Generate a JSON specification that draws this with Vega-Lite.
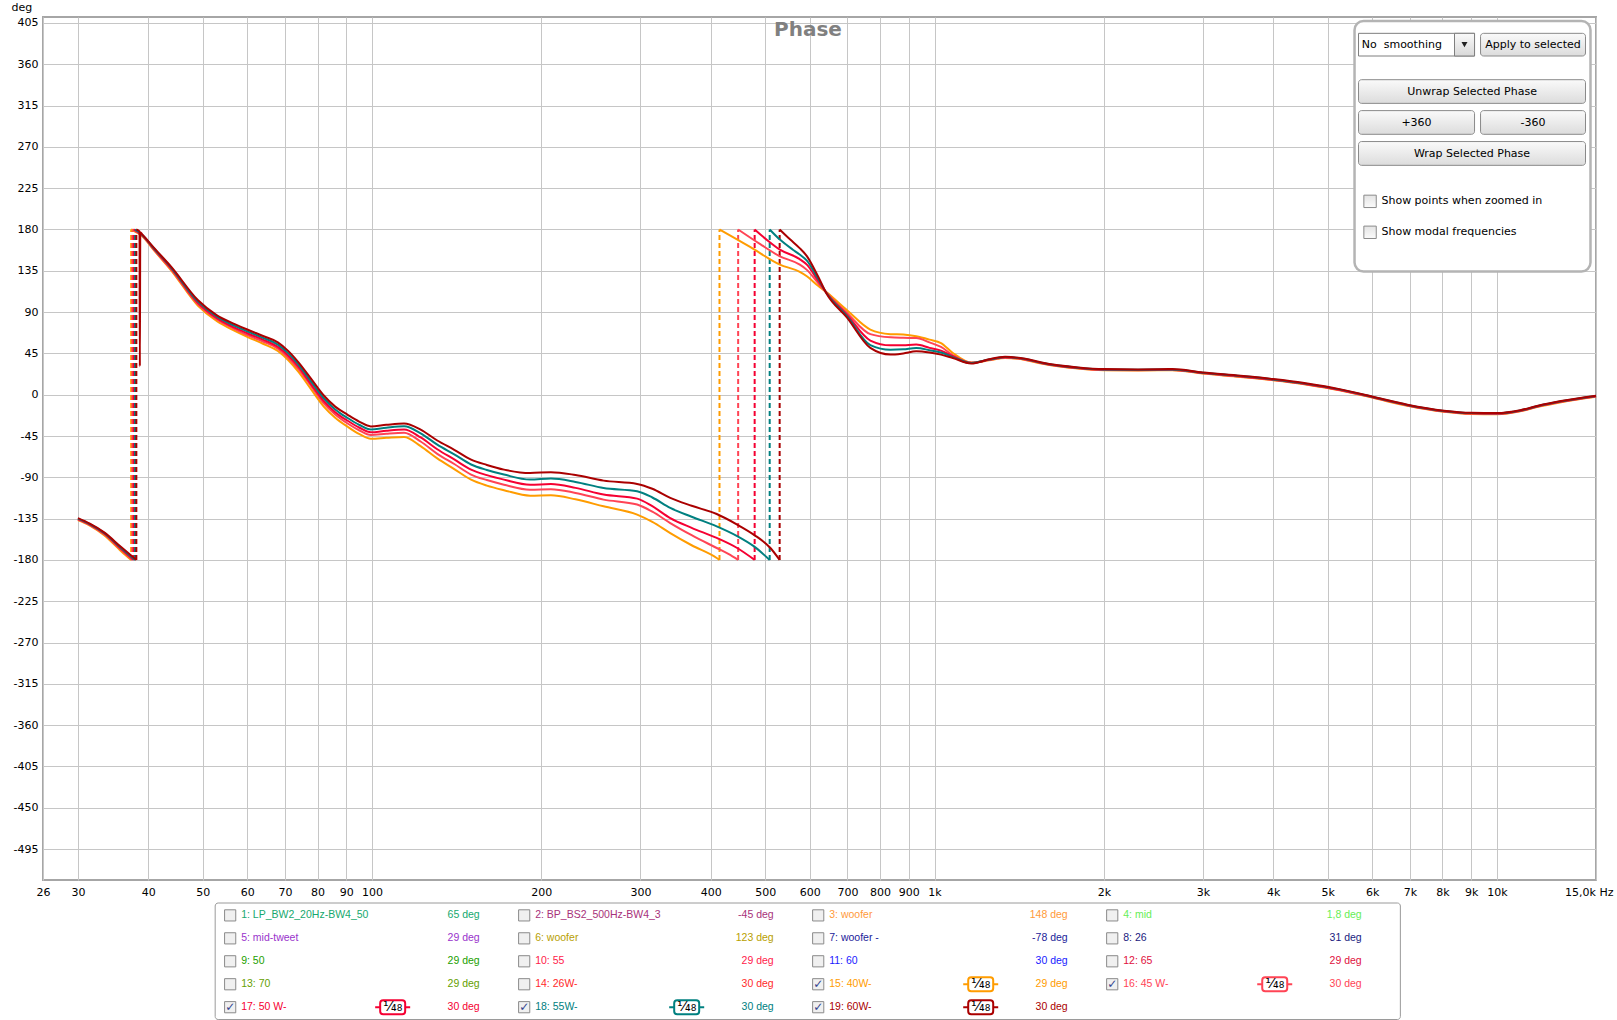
{
"$schema": "https://vega.github.io/schema/vega-lite/v6.json",
"background": "white",
"padding": {"left": 10, "top": 0, "right": 0, "bottom": 0},
"spacing": 4,
"resolve": {"scale": {"color": "independent", "x": "independent", "y": "independent"}},
"datasets": {
"wraps": [
{"s":"c15","f":37.3},{"s":"c16","f":37.5},{"s":"c17","f":37.7},{"s":"c18","f":37.9},{"s":"c19","f":38.1},
{"s":"c15","f":414.7},{"s":"c16","f":447.6},{"s":"c17","f":478.9},{"s":"c18","f":509.3},{"s":"c19","f":530.5}
],
"curves": [
{"g":1,"f":30,"c15":-136.5,"c16":-136,"c17":-135.5,"c18":-135,"c19":-134.5},
{"g":1,"f":31.5,"c15":-142.5,"c16":-142,"c17":-141.5,"c18":-141,"c19":-140.5},
{"g":1,"f":33.4,"c15":-153,"c16":-152,"c17":-151.2,"c18":-150.6,"c19":-150},
{"g":1,"f":35.8,"c15":-170.5,"c16":-169,"c17":-168,"c18":-167,"c19":-166},
{"g":1,"f":37.3,"c15":-180},
{"g":1,"f":37.5,"c16":-180},
{"g":1,"f":37.7,"c17":-180},
{"g":1,"f":37.9,"c18":-180},
{"g":1,"f":38.1,"c19":-180},
{"g":2,"f":37.3,"c15":180},
{"g":2,"f":37.5,"c16":180},
{"g":2,"f":37.7,"c17":180},
{"g":2,"f":37.9,"c18":180},
{"g":2,"f":38.1,"c19":180},
{"g":2,"f":38.6,"c19":178},
{"g":2,"f":38.65,"c19":31},
{"g":2,"f":38.72,"c19":177},
{"g":2,"f":39.0,"c15":172.9,"c16":173.4,"c17":173.9,"c18":174.4,"c19":174.9},
{"g":2,"f":41,"c15":157,"c16":157.5,"c17":158.3,"c18":159,"c19":159.7},
{"g":2,"f":44,"c15":135,"c16":136,"c17":137,"c18":138,"c19":139},
{"g":2,"f":49,"c15":97.2,"c16":98.7,"c17":100.2,"c18":101.7,"c19":103.2},
{"g":2,"f":53,"c15":80,"c16":82,"c17":83.5,"c18":85,"c19":86.5},
{"g":2,"f":57,"c15":69.5,"c16":71.5,"c17":73,"c18":75,"c19":77},
{"g":2,"f":60,"c15":63,"c16":65,"c17":67,"c18":69,"c19":71},
{"g":2,"f":64,"c15":55.5,"c16":58,"c17":60,"c18":62,"c19":64},
{"g":2,"f":68,"c15":47.6,"c16":50.1,"c17":52.1,"c18":54.6,"c19":57.1},
{"g":2,"f":71,"c15":37.5,"c16":40,"c17":42.5,"c18":45,"c19":47.5},
{"g":2,"f":74,"c15":24.8,"c16":27.8,"c17":30.3,"c18":32.8,"c19":35.3},
{"g":2,"f":78,"c15":5.5,"c16":9,"c17":11,"c18":14,"c19":17},
{"g":2,"f":82,"c15":-12.6,"c16":-9.1,"c17":-6.6,"c18":-3.6,"c19":-0.6},
{"g":2,"f":86,"c15":-25,"c16":-21.5,"c17":-19,"c18":-16,"c19":-13},
{"g":2,"f":90.5,"c15":-34.9,"c16":-31.4,"c17":-28.4,"c18":-25.4,"c19":-21.9},
{"g":2,"f":95,"c15":-43,"c16":-39,"c17":-36,"c18":-33,"c19":-29.5},
{"g":2,"f":99.5,"c15":-48,"c16":-44,"c17":-41,"c18":-38,"c19":-34.5},
{"g":2,"f":106,"c15":-47,"c16":-42.5,"c17":-39.2,"c18":-36,"c19":-32.8},
{"g":2,"f":114,"c15":-46,"c16":-41.4,"c17":-37.9,"c18":-34.4,"c19":-31.4},
{"g":2,"f":122,"c15":-56,"c16":-51,"c17":-46.5,"c18":-42,"c19":-38},
{"g":2,"f":130.6,"c15":-69.4,"c16":-64.4,"c17":-59.4,"c18":-54.4,"c19":-49.9},
{"g":2,"f":140,"c15":-81,"c16":-75.5,"c17":-70.5,"c18":-65,"c19":-60},
{"g":2,"f":150,"c15":-92.5,"c16":-87,"c17":-81.6,"c18":-76,"c19":-70.7},
{"g":2,"f":160,"c15":-99,"c16":-93,"c17":-87.6,"c18":-82,"c19":-76.5},
{"g":2,"f":171.6,"c15":-104,"c16":-98,"c17":-92.5,"c18":-87,"c19":-81.6},
{"g":2,"f":191,"c15":-110,"c16":-103.5,"c17":-98,"c18":-92.5,"c19":-85.3},
{"g":2,"f":208,"c15":-109.6,"c16":-102.9,"c17":-97.4,"c18":-91.4,"c19":-84.4},
{"g":2,"f":230,"c15":-114,"c16":-107,"c17":-101.5,"c18":-95,"c19":-87.5},
{"g":2,"f":258,"c15":-121.6,"c16":-114.3,"c17":-108.8,"c18":-101.6,"c19":-93.6},
{"g":2,"f":296,"c15":-130.6,"c16":-119.7,"c17":-113.2,"c18":-105.2,"c19":-97.2},
{"g":2,"f":315,"c15":-138.5,"c16":-127.5,"c17":-121.5,"c18":-112,"c19":-102.5},
{"g":2,"f":339,"c15":-150.7,"c16":-139.8,"c17":-134.4,"c18":-123.4,"c19":-112.4},
{"g":2,"f":370,"c15":-164,"c16":-153,"c17":-145,"c18":-133,"c19":-121},
{"g":2,"f":410,"c15":-177.9,"c16":-167,"c17":-156,"c18":-143.4,"c19":-130},
{"g":2,"f":414.7,"c15":-180},
{"g":2,"f":430,"c16":-173.5},
{"g":2,"f":445.8,"c17":-167,"c18":-154,"c19":-141.5},
{"g":2,"f":447.6,"c16":-180},
{"g":2,"f":477,"c18":-165,"c19":-152.4},
{"g":2,"f":478.9,"c17":-180},
{"g":2,"f":509.3,"c18":-180},
{"g":2,"f":510.8,"c19":-167},
{"g":2,"f":530.5,"c19":-180},
{"g":3,"f":414.7,"c15":180},
{"g":3,"f":447.6,"c16":180},
{"g":3,"f":470,"c15":161},
{"g":3,"f":478.9,"c17":180},
{"g":3,"f":490,"c16":164},
{"g":3,"f":505,"c17":168},
{"g":3,"f":509.3,"c18":180},
{"g":3,"f":530.5,"c19":180},
{"g":3,"f":531,"c15":141.7,"c16":150.8,"c17":158,"c18":169},
{"g":3,"f":554,"c19":169},
{"g":3,"f":560,"c18":158},
{"g":3,"f":575,"c15":134,"c16":142,"c17":148,"c18":153,"c19":160},
{"g":3,"f":593,"c15":129,"c16":136,"c17":141.7,"c18":146,"c19":151},
{"g":3,"f":620,"c15":119,"c16":122.1,"c17":124.7,"c18":127.1,"c19":129.6},
{"g":3,"f":643,"c15":111.5,"c16":111,"c17":110.8,"c18":110.5,"c19":110},
{"g":3,"f":699,"c15":92,"c16":89,"c17":87,"c18":85.5,"c19":84},
{"g":3,"f":769,"c15":71,"c16":66,"c17":59,"c18":54,"c19":51},
{"g":3,"f":835,"c15":66,"c16":62.5,"c17":53.8,"c18":49,"c19":43.7},
{"g":3,"f":880,"c15":65.5,"c16":62,"c17":54,"c18":49.5,"c19":45},
{"g":3,"f":928,"c15":63.6,"c16":61.8,"c17":54.6,"c18":50.9,"c19":47.3},
{"g":3,"f":980,"c15":60,"c16":57,"c17":51,"c18":48.5,"c19":46},
{"g":3,"f":1027,"c15":56.3,"c16":52,"c17":48,"c18":46,"c19":43.7},
{"g":3,"f":1078,"c15":45.5,"c16":43,"c17":42,"c18":41,"c19":40},
{"g":3,"f":1162,"c15":35,"c16":35,"c17":34.5,"c18":34.5,"c19":34},
{"g":3,"f":1250,"c15":37.4,"c16":37.7,"c17":38,"c18":38.3,"c19":38.6},
{"g":3,"f":1335,"c15":40.1,"c16":40.4,"c17":40.7,"c18":41,"c19":41.3},
{"g":3,"f":1450,"c15":37.9,"c16":38.2,"c17":38.5,"c18":38.8,"c19":39.1},
{"g":3,"f":1550,"c15":33.9,"c16":34.2,"c17":34.5,"c18":34.8,"c19":35.1},
{"g":3,"f":1800,"c15":28.5,"c16":28.8,"c17":29.1,"c18":29.4,"c19":29.7},
{"g":3,"f":2000,"c15":26.7,"c16":27,"c17":27.3,"c18":27.6,"c19":27.9},
{"g":3,"f":2300,"c15":26.4,"c16":26.7,"c17":27,"c18":27.3,"c19":27.6},
{"g":3,"f":2647,"c15":26.7,"c16":27,"c17":27.3,"c18":27.6,"c19":27.9},
{"g":3,"f":3000,"c15":23,"c16":23.3,"c17":23.6,"c18":23.9,"c19":24.2},
{"g":3,"f":3500,"c15":19.4,"c16":19.7,"c17":20,"c18":20.3,"c19":20.6},
{"g":3,"f":4000,"c15":15.8,"c16":16.1,"c17":16.4,"c18":16.7,"c19":17},
{"g":3,"f":4600,"c15":10.9,"c16":11.2,"c17":11.5,"c18":11.8,"c19":12.1},
{"g":3,"f":5248,"c15":4.9,"c16":5.2,"c17":5.5,"c18":5.8,"c19":6.1},
{"g":3,"f":6095,"c15":-4.2,"c16":-3.9,"c17":-3.6,"c18":-3.3,"c19":-3},
{"g":3,"f":6929,"c15":-12.1,"c16":-11.8,"c17":-11.5,"c18":-11.2,"c19":-10.9},
{"g":3,"f":8050,"c15":-18.6,"c16":-18.3,"c17":-18,"c18":-17.7,"c19":-17.4},
{"g":3,"f":9000,"c15":-20.9,"c16":-20.6,"c17":-20.3,"c18":-20,"c19":-19.7},
{"g":3,"f":10000,"c15":-21.2,"c16":-20.9,"c17":-20.6,"c18":-20.3,"c19":-20},
{"g":3,"f":11000,"c15":-18.1,"c16":-17.8,"c17":-17.5,"c18":-17.2,"c19":-16.9},
{"g":3,"f":11830,"c15":-13.2,"c16":-12.9,"c17":-12.6,"c18":-12.3,"c19":-12},
{"g":3,"f":13000,"c15":-8.1,"c16":-7.8,"c17":-7.5,"c18":-7.2,"c19":-6.9},
{"g":3,"f":15000,"c15":-2.3,"c16":-2,"c17":-1.7,"c18":-1.4,"c19":-1.1}
],
"legend": [
{"id":"1","label":"1: LP_BW2_20Hz-BW4_50","val":"65 deg","col":0,"row":0,"on":false},
{"id":"2","label":"2: BP_BS2_500Hz-BW4_3","val":"-45 deg","col":1,"row":0,"on":false},
{"id":"3","label":"3: woofer","val":"148 deg","col":2,"row":0,"on":false},
{"id":"4","label":"4: mid","val":"1,8 deg","col":3,"row":0,"on":false},
{"id":"5","label":"5: mid-tweet","val":"29 deg","col":0,"row":1,"on":false},
{"id":"6","label":"6: woofer","val":"123 deg","col":1,"row":1,"on":false},
{"id":"7","label":"7: woofer -","val":"-78 deg","col":2,"row":1,"on":false},
{"id":"8","label":"8: 26","val":"31 deg","col":3,"row":1,"on":false},
{"id":"9","label":"9: 50","val":"29 deg","col":0,"row":2,"on":false},
{"id":"10","label":"10: 55","val":"29 deg","col":1,"row":2,"on":false},
{"id":"11","label":"11: 60","val":"30 deg","col":2,"row":2,"on":false},
{"id":"12","label":"12: 65","val":"29 deg","col":3,"row":2,"on":false},
{"id":"13","label":"13: 70","val":"29 deg","col":0,"row":3,"on":false},
{"id":"14","label":"14: 26W-","val":"30 deg","col":1,"row":3,"on":false},
{"id":"15","label":"15: 40W-","val":"29 deg","col":2,"row":3,"on":true},
{"id":"16","label":"16: 45 W-","val":"30 deg","col":3,"row":3,"on":true},
{"id":"17","label":"17: 50 W-","val":"30 deg","col":0,"row":4,"on":true},
{"id":"18","label":"18: 55W-","val":"30 deg","col":1,"row":4,"on":true},
{"id":"19","label":"19: 60W-","val":"30 deg","col":2,"row":4,"on":true}
]
},
"vconcat": [
{
"width": 1553,
"height": 863,
"view": {"stroke": "#a6a6a6", "strokeWidth": 2, "fill": "white"},
"data": {"values": [{}]},
"layer": [
{"data": {"name": "wraps"},
 "mark": {"type": "rule", "strokeDash": [5, 3], "strokeWidth": 2},
 "encoding": {
  "x": {"field": "f", "type": "quantitative", "scale": {"type": "log", "domain": [26, 15000], "nice": false},
   "axis": {"values": [26,30,40,50,60,70,80,90,100,200,300,400,500,600,700,800,900,1000,2000,3000,4000,5000,6000,7000,8000,9000,10000,15000],
    "labelExpr": "datum.value >= 15000 ? '15,0k Hz' : (datum.value >= 1000 ? (datum.value / 1000) + 'k' : '' + datum.value)",
    "labelFlush": false, "labelOverlap": false, "labelBound": false, "grid": true, "gridColor": "#c6c6c6", "gridWidth": 1,
    "ticks": false, "domain": false, "labelPadding": 6, "labelFont": "DejaVu Sans", "labelFontSize": 11, "labelColor": "#000000", "title": null,
    "labelAlign": {"condition": {"test": "datum.value >= 15000", "value": "right"}, "value": "center"},
    "labelOffset": {"condition": {"test": "datum.value >= 15000", "value": 17}, "value": 0}}},
  "y": {"datum": -180, "type": "quantitative", "scale": {"domain": [-528.7, 411.5], "nice": false, "zero": false},
   "axis": {"values": [-495,-450,-405,-360,-315,-270,-225,-180,-135,-90,-45,0,45,90,135,180,225,270,315,360,405],
    "labelExpr": "'' + datum.value",
    "grid": true, "gridColor": "#c6c6c6", "gridWidth": 1, "ticks": false, "domain": false, "labelPadding": 5,
    "labelFont": "DejaVu Sans", "labelFontSize": 11, "labelColor": "#000000",
    "title": "deg", "titleAngle": 0, "titleAlign": "left", "titleBaseline": "middle", "titleX": -32, "titleY": -9.5,
    "titleFont": "DejaVu Sans", "titleFontSize": 11, "titleFontWeight": "normal", "titleColor": "#000000"}},
  "y2": {"datum": 180},
  "color": {"field": "s", "type": "nominal", "scale": {"domain": ["c15","c16","c17","c18","c19"], "range": ["#ff9c00","#ff4455","#f50032","#008080","#aa0000"]}, "legend": null}
 }},
{"data": {"name": "curves"},
 "transform": [{"fold": ["c15","c16","c17","c18","c19"], "as": ["s","p"]}, {"filter": "datum.p != null"}],
 "mark": {"type": "line", "strokeWidth": 2, "interpolate": "monotone"},
 "encoding": {
  "x": {"field": "f", "type": "quantitative", "scale": {"type": "log", "domain": [26, 15000], "nice": false}},
  "y": {"field": "p", "type": "quantitative", "scale": {"domain": [-528.7, 411.5], "nice": false, "zero": false}},
  "color": {"field": "s", "type": "nominal", "scale": {"domain": ["c15","c16","c17","c18","c19"], "range": ["#ff9c00","#ff4455","#f50032","#008080","#aa0000"]}, "legend": null},
  "detail": {"field": "g", "type": "nominal"}
 }},
{"mark": {"type": "text", "text": "Phase", "font": "DejaVu Sans", "fontSize": 20, "fontWeight": "bold", "color": "#808080", "align": "center", "baseline": "middle"},
 "encoding": {"x": {"datum": 595.8, "type": "quantitative", "scale": {"type": "log", "domain": [26, 15000], "nice": false}},
  "y": {"datum": 397, "type": "quantitative", "scale": {"domain": [-528.7, 411.5], "nice": false, "zero": false}}}},
{"mark": {"type": "rect", "fill": "white", "stroke": "#b4b4b4", "strokeWidth": 2.5, "cornerRadius": 9},
 "encoding": {"x": {"datum": 5582, "type": "quantitative", "scale": {"type": "log", "domain": [26, 15000], "nice": false}}, "x2": {"datum": 14666},
  "y": {"datum": 407.2, "type": "quantitative", "scale": {"domain": [-528.7, 411.5], "nice": false, "zero": false}}, "y2": {"datum": 134.2}}},
{"mark": {"type": "rect", "fill": "white", "stroke": "#7f7f7f", "strokeWidth": 1},
 "encoding": {"x": {"datum": 5674, "type": "quantitative", "scale": {"type": "log", "domain": [26, 15000], "nice": false}}, "x2": {"datum": 9123},
  "y": {"datum": 393.7, "type": "quantitative", "scale": {"domain": [-528.7, 411.5], "nice": false, "zero": false}}, "y2": {"datum": 369.0}}},
{"mark": {"type": "rect", "fill": {"gradient": "linear", "x1": 0, "y1": 0, "x2": 0, "y2": 1, "stops": [{"offset": 0, "color": "#fafafa"}, {"offset": 1, "color": "#d8d8d8"}]}, "stroke": "#7f7f7f", "strokeWidth": 1},
 "encoding": {"x": {"datum": 8405, "type": "quantitative", "scale": {"type": "log", "domain": [26, 15000], "nice": false}}, "x2": {"datum": 9123},
  "y": {"datum": 393.7, "type": "quantitative", "scale": {"domain": [-528.7, 411.5], "nice": false, "zero": false}}, "y2": {"datum": 369.0}}},
{"mark": {"type": "point", "shape": "triangle-down", "size": 36, "filled": true, "color": "#222222", "opacity": 1},
 "encoding": {"x": {"datum": 8755, "type": "quantitative", "scale": {"type": "log", "domain": [26, 15000], "nice": false}},
  "y": {"datum": 381.4, "type": "quantitative", "scale": {"domain": [-528.7, 411.5], "nice": false, "zero": false}}}},
{"mark": {"type": "rect", "fill": {"gradient": "linear", "x1": 0, "y1": 0, "x2": 0, "y2": 1, "stops": [{"offset": 0, "color": "#fafafa"}, {"offset": 1, "color": "#dcdcdc"}]}, "stroke": "#8a8a8a", "strokeWidth": 1, "cornerRadius": 3},
 "encoding": {"x": {"datum": 9350, "type": "quantitative", "scale": {"type": "log", "domain": [26, 15000], "nice": false}}, "x2": {"datum": 14369},
  "y": {"datum": 393.7, "type": "quantitative", "scale": {"domain": [-528.7, 411.5], "nice": false, "zero": false}}, "y2": {"datum": 369.0}}},
{"mark": {"type": "rect", "fill": {"gradient": "linear", "x1": 0, "y1": 0, "x2": 0, "y2": 1, "stops": [{"offset": 0, "color": "#fafafa"}, {"offset": 1, "color": "#dcdcdc"}]}, "stroke": "#8a8a8a", "strokeWidth": 1, "cornerRadius": 3},
 "encoding": {"x": {"datum": 5674, "type": "quantitative", "scale": {"type": "log", "domain": [26, 15000], "nice": false}}, "x2": {"datum": 14369},
  "y": {"datum": 343.2, "type": "quantitative", "scale": {"domain": [-528.7, 411.5], "nice": false, "zero": false}}, "y2": {"datum": 317.4}}},
{"mark": {"type": "rect", "fill": {"gradient": "linear", "x1": 0, "y1": 0, "x2": 0, "y2": 1, "stops": [{"offset": 0, "color": "#fafafa"}, {"offset": 1, "color": "#dcdcdc"}]}, "stroke": "#8a8a8a", "strokeWidth": 1, "cornerRadius": 3},
 "encoding": {"x": {"datum": 5674, "type": "quantitative", "scale": {"type": "log", "domain": [26, 15000], "nice": false}}, "x2": {"datum": 9123},
  "y": {"datum": 309.5, "type": "quantitative", "scale": {"domain": [-528.7, 411.5], "nice": false, "zero": false}}, "y2": {"datum": 283.7}}},
{"mark": {"type": "rect", "fill": {"gradient": "linear", "x1": 0, "y1": 0, "x2": 0, "y2": 1, "stops": [{"offset": 0, "color": "#fafafa"}, {"offset": 1, "color": "#dcdcdc"}]}, "stroke": "#8a8a8a", "strokeWidth": 1, "cornerRadius": 3},
 "encoding": {"x": {"datum": 9350, "type": "quantitative", "scale": {"type": "log", "domain": [26, 15000], "nice": false}}, "x2": {"datum": 14369},
  "y": {"datum": 309.5, "type": "quantitative", "scale": {"domain": [-528.7, 411.5], "nice": false, "zero": false}}, "y2": {"datum": 283.7}}},
{"mark": {"type": "rect", "fill": {"gradient": "linear", "x1": 0, "y1": 0, "x2": 0, "y2": 1, "stops": [{"offset": 0, "color": "#fafafa"}, {"offset": 1, "color": "#dcdcdc"}]}, "stroke": "#8a8a8a", "strokeWidth": 1, "cornerRadius": 3},
 "encoding": {"x": {"datum": 5674, "type": "quantitative", "scale": {"type": "log", "domain": [26, 15000], "nice": false}}, "x2": {"datum": 14369},
  "y": {"datum": 275.8, "type": "quantitative", "scale": {"domain": [-528.7, 411.5], "nice": false, "zero": false}}, "y2": {"datum": 249.9}}},
{"mark": {"type": "rect", "fill": {"gradient": "linear", "x1": 0, "y1": 0, "x2": 0, "y2": 1, "stops": [{"offset": 0, "color": "#e4e4e4"}, {"offset": 1, "color": "#fbfbfb"}]}, "stroke": "#8a8a8a", "strokeWidth": 1},
 "encoding": {"x": {"datum": 5799, "type": "quantitative", "scale": {"type": "log", "domain": [26, 15000], "nice": false}}, "x2": {"datum": 6101},
  "y": {"datum": 217.4, "type": "quantitative", "scale": {"domain": [-528.7, 411.5], "nice": false, "zero": false}}, "y2": {"datum": 203.9}}},
{"mark": {"type": "rect", "fill": {"gradient": "linear", "x1": 0, "y1": 0, "x2": 0, "y2": 1, "stops": [{"offset": 0, "color": "#e4e4e4"}, {"offset": 1, "color": "#fbfbfb"}]}, "stroke": "#8a8a8a", "strokeWidth": 1},
 "encoding": {"x": {"datum": 5799, "type": "quantitative", "scale": {"type": "log", "domain": [26, 15000], "nice": false}}, "x2": {"datum": 6101},
  "y": {"datum": 183.7, "type": "quantitative", "scale": {"domain": [-528.7, 411.5], "nice": false, "zero": false}}, "y2": {"datum": 170.2}}},
{"mark": {"type": "text", "text": "No\u00a0\u00a0smoothing", "font": "DejaVu Sans", "fontSize": 11, "color": "#000000", "align": "left", "baseline": "middle"},
 "encoding": {"x": {"datum": 5749, "type": "quantitative", "scale": {"type": "log", "domain": [26, 15000], "nice": false}},
  "y": {"datum": 381.4, "type": "quantitative", "scale": {"domain": [-528.7, 411.5], "nice": false, "zero": false}}}},
{"mark": {"type": "text", "text": "Apply to selected", "font": "DejaVu Sans", "fontSize": 11, "color": "#000000", "align": "center", "baseline": "middle"},
 "encoding": {"x": {"datum": 11588, "type": "quantitative", "scale": {"type": "log", "domain": [26, 15000], "nice": false}},
  "y": {"datum": 381.4, "type": "quantitative", "scale": {"domain": [-528.7, 411.5], "nice": false, "zero": false}}}},
{"mark": {"type": "text", "text": "Unwrap Selected Phase", "font": "DejaVu Sans", "fontSize": 11, "color": "#000000", "align": "center", "baseline": "middle"},
 "encoding": {"x": {"datum": 9030, "type": "quantitative", "scale": {"type": "log", "domain": [26, 15000], "nice": false}},
  "y": {"datum": 329.7, "type": "quantitative", "scale": {"domain": [-528.7, 411.5], "nice": false, "zero": false}}}},
{"mark": {"type": "text", "text": "+360", "font": "DejaVu Sans", "fontSize": 11, "color": "#000000", "align": "center", "baseline": "middle"},
 "encoding": {"x": {"datum": 7194, "type": "quantitative", "scale": {"type": "log", "domain": [26, 15000], "nice": false}},
  "y": {"datum": 296.0, "type": "quantitative", "scale": {"domain": [-528.7, 411.5], "nice": false, "zero": false}}}},
{"mark": {"type": "text", "text": "-360", "font": "DejaVu Sans", "fontSize": 11, "color": "#000000", "align": "center", "baseline": "middle"},
 "encoding": {"x": {"datum": 11588, "type": "quantitative", "scale": {"type": "log", "domain": [26, 15000], "nice": false}},
  "y": {"datum": 296.0, "type": "quantitative", "scale": {"domain": [-528.7, 411.5], "nice": false, "zero": false}}}},
{"mark": {"type": "text", "text": "Wrap Selected Phase", "font": "DejaVu Sans", "fontSize": 11, "color": "#000000", "align": "center", "baseline": "middle"},
 "encoding": {"x": {"datum": 9030, "type": "quantitative", "scale": {"type": "log", "domain": [26, 15000], "nice": false}},
  "y": {"datum": 262.4, "type": "quantitative", "scale": {"domain": [-528.7, 411.5], "nice": false, "zero": false}}}},
{"mark": {"type": "text", "text": "Show points when zoomed in", "font": "DejaVu Sans", "fontSize": 11, "color": "#000000", "align": "left", "baseline": "middle"},
 "encoding": {"x": {"datum": 6232, "type": "quantitative", "scale": {"type": "log", "domain": [26, 15000], "nice": false}},
  "y": {"datum": 210.7, "type": "quantitative", "scale": {"domain": [-528.7, 411.5], "nice": false, "zero": false}}}},
{"mark": {"type": "text", "text": "Show modal frequencies", "font": "DejaVu Sans", "fontSize": 11, "color": "#000000", "align": "left", "baseline": "middle"},
 "encoding": {"x": {"datum": 6232, "type": "quantitative", "scale": {"type": "log", "domain": [26, 15000], "nice": false}},
  "y": {"datum": 176.9, "type": "quantitative", "scale": {"domain": [-528.7, 411.5], "nice": false, "zero": false}}}}
]
},
{
"width": 1553,
"height": 116.5,
"view": {"stroke": null},
"data": {"name": "legend"},
"layer": [
{"data": {"values": [{}]},
 "mark": {"type": "rect", "fill": "white", "stroke": "#9a9a9a", "strokeWidth": 1, "cornerRadius": 3},
 "encoding": {"x": {"datum": -0.051, "type": "quantitative", "scale": {"domain": [-0.6366, 4.6454], "nice": false, "zero": false}, "axis": null}, "x2": {"datum": 3.98},
  "y": {"datum": -0.54, "type": "quantitative", "scale": {"domain": [-0.54, 4.536], "nice": false, "zero": false, "reverse": true}, "axis": null}, "y2": {"datum": 4.536}}},
{"mark": {"type": "point", "shape": "square", "size": 125, "filled": true, "fill": "#f0f0f0", "stroke": "#8a8a8a", "strokeWidth": 1, "opacity": 1},
 "encoding": {"x": {"field": "col", "type": "quantitative", "scale": {"domain": [-0.6366, 4.6454], "nice": false, "zero": false}, "axis": null},
  "y": {"field": "row", "type": "quantitative", "scale": {"domain": [-0.54, 4.536], "nice": false, "zero": false, "reverse": true}, "axis": null}}},
{"transform": [{"filter": "datum.on"}],
 "mark": {"type": "text", "text": "\u2713", "font": "DejaVu Sans", "fontSize": 12, "fontWeight": "bold", "color": "#33448f", "align": "center", "baseline": "middle"},
 "encoding": {"x": {"field": "col", "type": "quantitative", "scale": {"domain": [-0.6366, 4.6454], "nice": false, "zero": false}, "axis": null},
  "y": {"field": "row", "type": "quantitative", "scale": {"domain": [-0.54, 4.536], "nice": false, "zero": false, "reverse": true}, "axis": null}}},
{"mark": {"type": "text", "font": "Liberation Sans", "fontSize": 10.5, "align": "left", "baseline": "middle", "dx": 11},
 "encoding": {"x": {"field": "col", "type": "quantitative", "scale": {"domain": [-0.6366, 4.6454], "nice": false, "zero": false}, "axis": null},
  "y": {"field": "row", "type": "quantitative", "scale": {"domain": [-0.54, 4.536], "nice": false, "zero": false, "reverse": true}, "axis": null},
  "text": {"field": "label", "type": "nominal"},
  "color": {"field": "id", "type": "nominal", "scale": {"domain": ["1","2","3","4","5","6","7","8","9","10","11","12","13","14","15","16","17","18","19"], "range": ["#16a86e","#a8327a","#ff9a3a","#66ee55","#9933cc","#b8a000","#1c1c9a","#1a1a80","#22a000","#ff1a4a","#1a1aff","#e01040","#66a000","#ff2a2a","#ff9c00","#ff4455","#f50032","#008080","#aa0000"]}, "legend": null}}},
{"mark": {"type": "text", "font": "Liberation Sans", "fontSize": 10.5, "align": "right", "baseline": "middle", "dx": 249.5},
 "encoding": {"x": {"field": "col", "type": "quantitative", "scale": {"domain": [-0.6366, 4.6454], "nice": false, "zero": false}, "axis": null},
  "y": {"field": "row", "type": "quantitative", "scale": {"domain": [-0.54, 4.536], "nice": false, "zero": false, "reverse": true}, "axis": null},
  "text": {"field": "val", "type": "nominal"},
  "color": {"field": "id", "type": "nominal", "scale": {"domain": ["1","2","3","4","5","6","7","8","9","10","11","12","13","14","15","16","17","18","19"], "range": ["#16a86e","#a8327a","#ff9a3a","#66ee55","#9933cc","#b8a000","#1c1c9a","#1a1a80","#22a000","#ff1a4a","#1a1aff","#e01040","#66a000","#ff2a2a","#ff9c00","#ff4455","#f50032","#008080","#aa0000"]}, "legend": null}}},
{"transform": [{"filter": "datum.on"}],
 "mark": {"type": "rule", "strokeWidth": 2, "xOffset": 145, "x2Offset": 180},
 "encoding": {"x": {"field": "col", "type": "quantitative", "scale": {"domain": [-0.6366, 4.6454], "nice": false, "zero": false}, "axis": null}, "x2": {"field": "col"},
  "y": {"field": "row", "type": "quantitative", "scale": {"domain": [-0.54, 4.536], "nice": false, "zero": false, "reverse": true}, "axis": null},
  "color": {"field": "id", "type": "nominal", "scale": {"domain": ["1","2","3","4","5","6","7","8","9","10","11","12","13","14","15","16","17","18","19"], "range": ["#16a86e","#a8327a","#ff9a3a","#66ee55","#9933cc","#b8a000","#1c1c9a","#1a1a80","#22a000","#ff1a4a","#1a1aff","#e01040","#66a000","#ff2a2a","#ff9c00","#ff4455","#f50032","#008080","#aa0000"]}, "legend": null}}},
{"transform": [{"filter": "datum.on"}],
 "mark": {"type": "rect", "fill": "white", "strokeWidth": 2, "cornerRadius": 3, "xOffset": 150, "x2Offset": 175, "yOffset": -7, "y2Offset": 7},
 "encoding": {"x": {"field": "col", "type": "quantitative", "scale": {"domain": [-0.6366, 4.6454], "nice": false, "zero": false}, "axis": null}, "x2": {"field": "col"},
  "y": {"field": "row", "type": "quantitative", "scale": {"domain": [-0.54, 4.536], "nice": false, "zero": false, "reverse": true}, "axis": null}, "y2": {"field": "row"},
  "stroke": {"field": "id", "type": "nominal", "scale": {"domain": ["1","2","3","4","5","6","7","8","9","10","11","12","13","14","15","16","17","18","19"], "range": ["#16a86e","#a8327a","#ff9a3a","#66ee55","#9933cc","#b8a000","#1c1c9a","#1a1a80","#22a000","#ff1a4a","#1a1aff","#e01040","#66a000","#ff2a2a","#ff9c00","#ff4455","#f50032","#008080","#aa0000"]}, "legend": null}}},
{"transform": [{"filter": "datum.on"}],
 "mark": {"type": "text", "text": "\u00b9\u2044\u2084\u2088", "font": "DejaVu Sans", "fontSize": 14, "color": "#000000", "align": "center", "baseline": "middle", "dx": 162.5},
 "encoding": {"x": {"field": "col", "type": "quantitative", "scale": {"domain": [-0.6366, 4.6454], "nice": false, "zero": false}, "axis": null},
  "y": {"field": "row", "type": "quantitative", "scale": {"domain": [-0.54, 4.536], "nice": false, "zero": false, "reverse": true}, "axis": null}}}
]
}
]
}
